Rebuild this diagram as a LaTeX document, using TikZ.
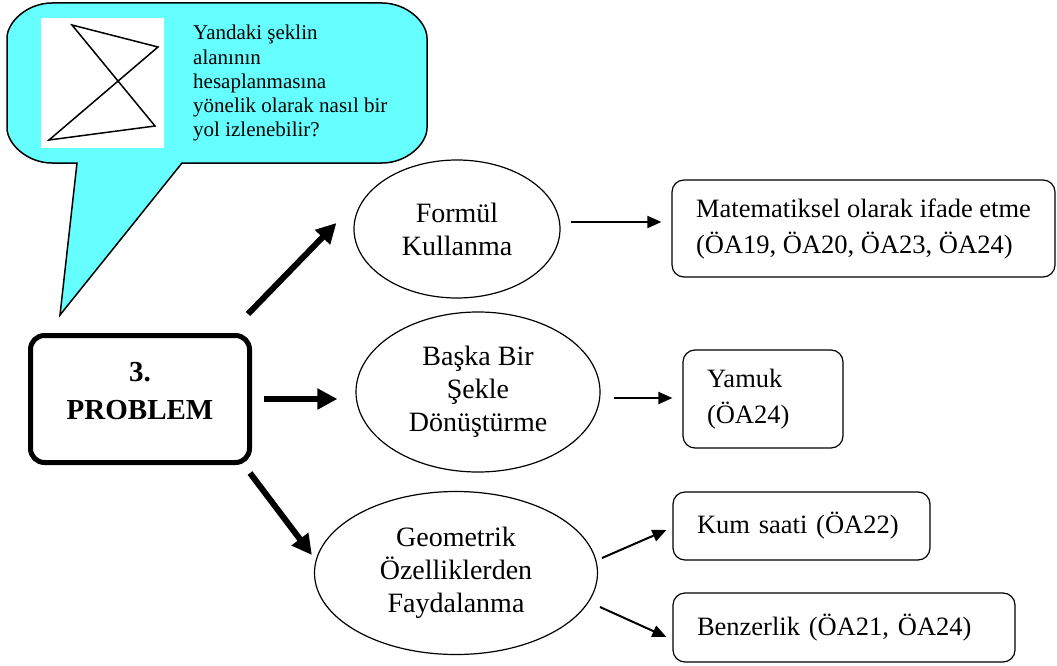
\documentclass[tikz,border=0pt]{standalone}
\usepackage{fontspec}
\setmainfont{Liberation Serif}
\usetikzlibrary{shapes.geometric,arrows.meta}
\definecolor{bubblecyan}{RGB}{102,255,255}
\begin{document}
\begin{tikzpicture}[x=1pt,y=-1pt,
  oval/.style={draw, ellipse, line width=1.2pt, inner sep=0pt, align=center,
    font=\fontsize{28}{33}\selectfont},
  infobox/.style={draw, rectangle, rounded corners=12pt, line width=1.2pt, align=left,
    inner ysep=0pt, inner xsep=24pt, font=\fontsize{26.5}{36}\selectfont},
  problembox/.style={draw, rectangle, rounded corners=14pt, line width=5pt, align=center,
    inner sep=0pt, font=\fontsize{29}{38}\selectfont\bfseries},
  bubbletext/.style={align=left, inner sep=0pt, font=\fontsize{21}{24.3}\selectfont},
  thinarrow/.style={line width=2pt, -{Triangle[length=14pt,width=12pt]}},
  thickarrow/.style={line width=6pt, -{Triangle[length=20pt,width=20pt]}},
  outline/.style={line width=1.5pt, line join=miter}
]
\useasboundingbox (0,0) rectangle (1057,666);

% speech bubble
\draw[outline, fill=bubblecyan]
  (77,163) -- (60,315) -- (182,163) -- (382,163)
  .. controls (407,163) and (427,143.7) .. (427,128)
  -- (427,38)
  .. controls (427,22.3) and (407,3) .. (382,3)
  -- (52,3)
  .. controls (27,3) and (7,22.3) .. (7,38)
  -- (7,128)
  .. controls (7,143.7) and (27,163) .. (52,163)
  -- cycle;
\fill[white] (41,18) rectangle (164,148);
\draw[outline] (72,25) -- (158,47) -- (49,140) -- (155,126) -- cycle;
\node[bubbletext, anchor=north west] (q) at (193,25)
  {Yandaki şeklin\\alanının\\hesaplanmasına\\yönelik olarak nasıl bir\\yol izlenebilir?};

% problem
\node[problembox, minimum width=219pt, minimum height=127pt, text depth=16pt] (p) at (140,399) {3.\\PROBLEM};

% ellipses
\node[oval, minimum width=206pt, minimum height=138pt] (e1) at (457,229) {Formül\\Kullanma};
\node[oval, minimum width=244pt, minimum height=160pt] (e2) at (478,392) {Başka Bir\\Şekle\\Dönüştürme};
\node[oval, minimum width=283pt, minimum height=163pt] (e3) at (456,573) {Geometrik\\Özelliklerden\\Faydalanma};

% boxes
\node[infobox, inner xsep=0pt, minimum width=383pt, minimum height=97pt] (b1) at (863.5,228.5)
  {Matematiksel olarak ifade etme\\(ÖA19, ÖA20, ÖA23, ÖA24)};
\node[infobox, text width=112pt, minimum height=98pt] (b2) at (763,399) {Yamuk\\(ÖA24)};
\node[infobox, text width=209pt, minimum height=68pt] (b3) at (801.5,526) {Kum saati (ÖA22)};
\node[infobox, text width=294pt, minimum height=69pt] (b4) at (844,627.5) {Benzerlik (ÖA21, ÖA24)};

% thick arrows
\draw[thickarrow] ([shift={(-4,-19)}]p.north east) -- ([shift={(-17,-6)}]e1.west);
\draw[thickarrow] ([shift={(12,0)}]p.east) -- ([shift={(-18,7)}]e2.west);
\draw[thickarrow] ([shift={(-2,8)}]p.south east) -- ([shift={(-2,-18)}]e3.west);

% thin arrows
\draw[thinarrow] ([shift={(10,-7)}]e1.east) -- ([shift={(-10,-6.5)}]b1.west);
\draw[thinarrow] ([shift={(13,6)}]e2.east) -- ([shift={(-10,-1)}]b2.west);
\draw[thinarrow] ([shift={(146,-15)}]e3.center) -- ([shift={(-6,4)}]b3.west);
\draw[thinarrow] ([shift={(144,34)}]e3.center) -- ([shift={(-6,9.5)}]b4.west);
\end{tikzpicture}
\end{document}
